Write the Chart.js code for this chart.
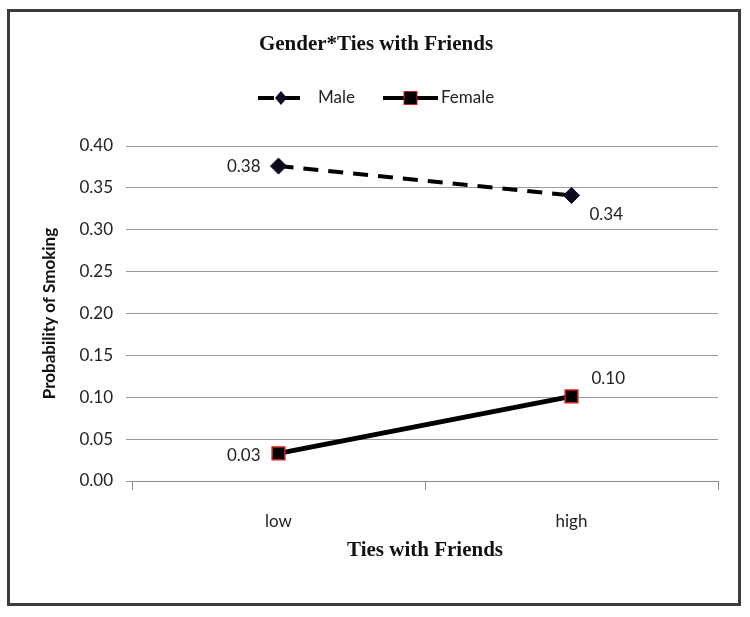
<!DOCTYPE html>
<html>
<head>
<meta charset="utf-8">
<script src="https://cdn.jsdelivr.net/npm/chart.js@4"></script>
<style>
  html, body { margin: 0; padding: 0; background: #ffffff; }
  canvas { display: block; }
</style>
</head>
<body>
<canvas id="chartTies" width="750" height="617"></canvas>
<script>
// Gender * Ties with Friends — probability of smoking

var categories = ['low', 'high'];
var maleValues = [0.376, 0.341];
var femaleValues = [0.033, 0.101];
var yTicks = [0, 0.05, 0.10, 0.15, 0.20, 0.25, 0.30, 0.35, 0.40];

var SANS = "Lato, 'Noto Sans', sans-serif";
var SERIF = "'Liberation Serif', 'DejaVu Serif', serif";

// label offsets per dataset/point (dx, dy, align)
var labelPlacement = [
    [{ dx: -18, dy: 0, align: 'right' }, { dx: 18, dy: 19, align: 'left' }],
    [{ dx: -18, dy: 2, align: 'right' }, { dx: 20, dy: -18, align: 'left' }]
];

// frame, title, legend and value labels
var decorPlugin = {
    id: 'decor',
    beforeDraw: function(chart) {
        var ctx = chart.ctx;
        ctx.save();
        ctx.fillStyle = '#ffffff';
        ctx.fillRect(0, 0, chart.width, chart.height);
        ctx.restore();
    },
    afterDraw: function(chart) {
        var ctx = chart.ctx;
        ctx.save();
        // outer frame
        ctx.strokeStyle = '#3c3c3c';
        ctx.lineWidth = 3;
        ctx.strokeRect(8.5, 10.5, 731, 594);

        // title
        ctx.fillStyle = '#111111';
        ctx.font = 'bold 21px ' + SERIF;
        ctx.textAlign = 'center';
        ctx.textBaseline = 'middle';
        ctx.fillText('Gender*Ties with Friends', 376, 45);

        // legend: Male
        var ly = 98;
        ctx.strokeStyle = '#000000';
        ctx.lineWidth = 4;
        ctx.setLineDash([16, 10]);
        ctx.beginPath();
        ctx.moveTo(258, ly);
        ctx.lineTo(302, ly);
        ctx.stroke();
        ctx.setLineDash([]);
        ctx.fillStyle = '#0b0b1e';
        ctx.beginPath();
        ctx.moveTo(281, ly - 7);
        ctx.lineTo(287, ly);
        ctx.lineTo(281, ly + 7);
        ctx.lineTo(275, ly);
        ctx.closePath();
        ctx.fill();

        // legend: Female
        ctx.lineWidth = 4;
        ctx.beginPath();
        ctx.moveTo(383, ly);
        ctx.lineTo(438, ly);
        ctx.stroke();
        ctx.fillStyle = '#000000';
        ctx.fillRect(404, ly - 6.5, 13, 13);
        ctx.strokeStyle = '#d02020';
        ctx.lineWidth = 1;
        ctx.strokeRect(404, ly - 6.5, 13, 13);

        ctx.fillStyle = '#222222';
        ctx.font = '17px ' + SANS;
        ctx.textAlign = 'left';
        ctx.fillText('Male', 318, ly);
        ctx.fillText('Female', 441, ly);
        ctx.restore();
    },
    afterDatasetsDraw: function(chart) {
        var ctx = chart.ctx;
        ctx.save();
        ctx.fillStyle = '#222222';
        ctx.font = '17px ' + SANS;
        ctx.textBaseline = 'middle';
        chart.data.datasets.forEach(function(ds, di) {
            var meta = chart.getDatasetMeta(di);
            meta.data.forEach(function(pt, i) {
                var p = labelPlacement[di][i];
                ctx.textAlign = p.align;
                ctx.fillText(ds.data[i].toFixed(2), pt.x + p.dx, pt.y + p.dy);
            });
        });
        ctx.restore();
    }
};

new Chart(document.getElementById('chartTies').getContext('2d'), {
    type: 'line',
    data: {
        labels: categories,
        datasets: [
            {
                label: 'Male',
                data: maleValues,
                borderColor: '#000000',
                borderWidth: 4,
                borderDash: [15, 10],
                fill: false,
                tension: 0,
                pointStyle: 'rectRot',
                pointRadius: 8,
                pointBackgroundColor: '#0b0b1e',
                pointBorderColor: '#0b0b1e',
                pointBorderWidth: 1
            },
            {
                label: 'Female',
                data: femaleValues,
                borderColor: '#000000',
                borderWidth: 5,
                fill: false,
                tension: 0,
                pointStyle: 'rect',
                pointRadius: 9,
                pointBackgroundColor: '#000000',
                pointBorderColor: '#d02020',
                pointBorderWidth: 1.5
            }
        ]
    },
    options: {
        responsive: false,
        animation: false,
        layout: {
            padding: { top: 146, right: 32, left: 0, bottom: 0 }
        },
        plugins: {
            legend: { display: false },
            tooltip: { enabled: false },
            title: { display: false }
        },
        scales: {
            x: {
                type: 'category',
                offset: true,
                afterFit: function(scale) { scale.height = 136; },
                grid: {
                    offset: true,
                    drawOnChartArea: false,
                    drawTicks: true,
                    tickLength: 9,
                    color: '#8a8a8a'
                },
                border: { display: true, color: '#8a8a8a' },
                ticks: {
                    color: '#222222',
                    padding: 21,
                    font: { family: SANS, size: 17 }
                },
                title: {
                    display: true,
                    text: 'Ties with Friends',
                    color: '#111111',
                    padding: { top: 0, bottom: 54 },
                    font: { family: SERIF, size: 21, weight: 'bold' }
                }
            },
            y: {
                min: 0,
                max: 0.4,
                afterFit: function(scale) { scale.width = 132; },
                afterBuildTicks: function(scale) {
                    scale.ticks = yTicks.map(function(v) { return { value: v }; });
                },
                grid: {
                    color: '#9a9a9a',
                    lineWidth: 1,
                    drawTicks: true,
                    tickLength: 6
                },
                border: { display: false },
                ticks: {
                    color: '#222222',
                    padding: 13,
                    font: { family: SANS, size: 17 },
                    callback: function(value) { return Number(value).toFixed(2); }
                },
                title: {
                    display: true,
                    text: 'Probability of Smoking',
                    color: '#111111',
                    padding: { top: 39, bottom: 0 },
                    font: { family: SANS, size: 17, weight: 'bold' }
                }
            }
        }
    },
    plugins: [decorPlugin]
});
</script>
</body>
</html>
